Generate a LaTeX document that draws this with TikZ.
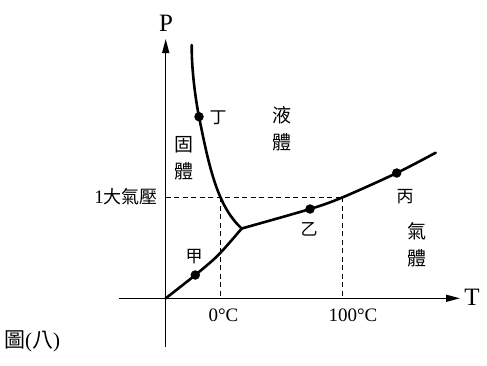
\documentclass[tikz,border=0pt]{standalone}
\usepackage{fontspec}
\setmainfont{Liberation Serif}
\newfontfamily\cjk{Noto Sans CJK TC}
\usetikzlibrary{arrows.meta, positioning, calc}

\begin{document}
\begin{tikzpicture}[
    x=1pt, y=-1pt,
    axis/.style={line width=1.4pt, -{Triangle[length=14pt, width=7pt]}},
    curve/.style={line width=2.6pt, line join=round, line cap=round},
    guide/.style={line width=1pt, dash pattern=on 5pt off 3.5pt},
    dot/.style={circle, fill=black, inner sep=0pt, minimum size=9.5pt},
    zh/.style={font=\cjk\fontsize{19}{27}\selectfont, align=center, inner sep=0pt},
    pt/.style={font=\cjk\fontsize{17}{17}\selectfont, inner sep=0pt},
    num/.style={font=\fontsize{19}{19}\selectfont, inner sep=0pt},
  ]
  \useasboundingbox (0,0) rectangle (487,365);

  % axes
  \coordinate (O) at (165.7,298.3);
  \coordinate (ybot) at (165.7,346.7);
  \coordinate (ytop) at (165.7,39);
  \coordinate (xleft) at (119,298.3);
  \coordinate (xright) at (460,298.3);
  \draw[axis] (ybot) -- (ytop);
  \draw[axis] (xleft) -- (xright);
  \node[font=\fontsize{25}{25}\selectfont, inner sep=0pt] (plab) at (166,23) {P};
  \node[font=\fontsize{25}{25}\selectfont, inner sep=0pt] (tlab) at (472,297) {T};

  % phase boundaries
  \coordinate (trip) at (241.7,228.5);
  \coordinate (mtop) at (191.7,45);
  \coordinate (melt) at (220.3,197.3);
  \coordinate (boil) at (342.7,197.3);
  \coordinate (vend) at (435.7,152.7);

  \node[dot] (ding) at (199,116.7) {};
  \node[dot] (jia) at (195.3,275) {};
  \node[dot] (yi) at (310,209) {};
  \node[dot] (bing) at (396.7,173) {};

  \draw[curve] (mtop) .. controls (191.5,70) and (195.6,99.7) .. (ding.center)
    .. controls (209,166.7) and (217.5,206.5) .. (trip);
  \draw[curve] plot[smooth, tension=0.5] coordinates
    {(O) (jia.center) (218.3,255) (trip)};
  \draw[curve] plot[smooth, tension=0.5] coordinates
    {(trip) (yi.center) (boil) (bing.center) (vend)};

  % 1 atm guides
  \draw[guide] (O |- boil) -- (boil);
  \draw[guide] (melt) -- (melt |- O);
  \draw[guide] (boil) -- (boil |- O);

  % labels
  \node[num, anchor=east] (atm) at (158,197) {1{\cjk\fontsize{18}{18}\selectfont 大氣壓}};
  \node[num] (zero) at (223.5,315) {0°C};
  \node[num] (hund) at (353,315) {100°C};

  \node[zh] (solid) at (184,158.5) {固\\體};
  \node[zh] (liquid) at (281.7,129) {液\\體};
  \node[zh] (gas) at (416.7,245) {氣\\體};

  \node[pt] (dinglab) at (218,118) {丁};
  \node[pt] (jialab) at (194,257) {甲};
  \node[pt] (yilab) at (309,229) {乙};
  \node[pt] (binglab) at (405,197) {丙};

  \node[font=\fontsize{21}{21}\selectfont, anchor=west, inner sep=0pt] (caption) at (4,341.7)
    {{\cjk 圖}({\cjk 八})};
\end{tikzpicture}
\end{document}
